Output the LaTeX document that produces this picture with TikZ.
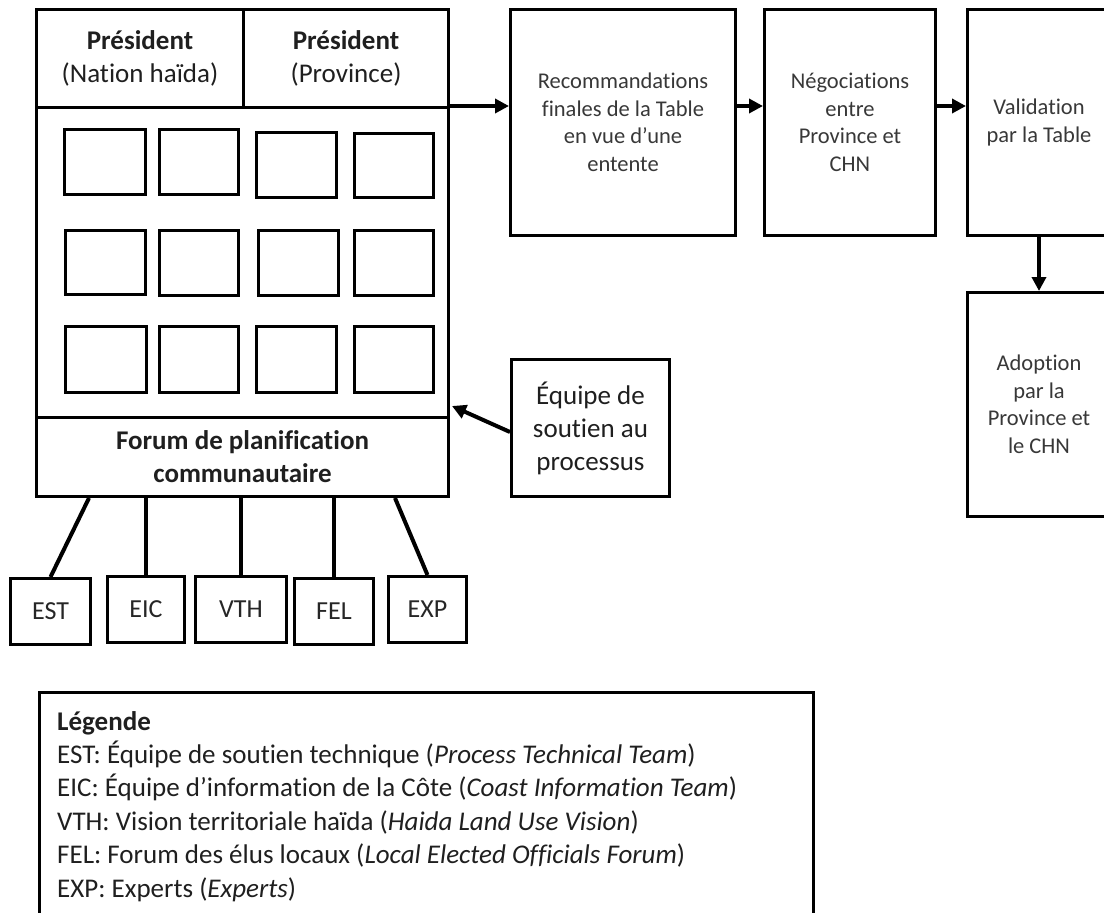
\documentclass[tikz,border=0pt]{standalone}
\usepackage{fontspec}
\setmainfont{Carlito}[Ligatures=NoCommon]
\usetikzlibrary{arrows.meta}
\begin{document}
\begin{tikzpicture}[x=1pt,y=-1pt,
  box/.style={draw, line width=3pt, rectangle, inner sep=0pt, anchor=north west},
  bigtxt/.style={font=\fontsize{27}{33}\selectfont, align=center, text=black!88},
  proc/.style={box, font=\fontsize{22.5}{27.5}\selectfont, align=center, text=black!78},
  tag/.style={box, font=\fontsize{26}{30}\selectfont, text=black!85},
  legline/.style={anchor=base west, inner sep=0pt, font=\fontsize{27}{33}\selectfont, text=black!88},
  arr/.style={line width=4pt, -{Triangle[length=14pt,width=14pt]}},
  link/.style={line width=4pt},
]
\useasboundingbox (0,0) rectangle (1104,913);

% Planning table with its two chairs and the community forum
\node[box, minimum width=412pt, minimum height=487pt] (table) at (35,8) {};
\node[box, bigtxt, minimum width=207pt, minimum height=98pt] (hA) at (35,8)
  {\textbf{Président}\\(Nation haïda)};
\node[box, bigtxt, minimum width=205pt, minimum height=98pt] (hB) at (242,8)
  {\textbf{Président}\\(Province)};
\node[box, bigtxt, minimum width=412pt, minimum height=79pt] (forum) at (35,416)
  {\textbf{Forum de planification}\\\textbf{communautaire}};

% Table members
\node[box, minimum width=81pt, minimum height=65pt] (g11) at (63,128) {};
\node[box, minimum width=79pt, minimum height=65pt] (g12) at (158,128) {};
\node[box, minimum width=80pt, minimum height=65pt] (g13) at (255,131) {};
\node[box, minimum width=79pt, minimum height=64pt] (g14) at (353,132) {};
\node[box, minimum width=80pt, minimum height=64pt] (g21) at (64,229) {};
\node[box, minimum width=79pt, minimum height=65pt] (g22) at (158,229) {};
\node[box, minimum width=80pt, minimum height=65pt] (g23) at (257,229) {};
\node[box, minimum width=79pt, minimum height=65pt] (g24) at (353,229) {};
\node[box, minimum width=81pt, minimum height=66pt] (g31) at (64,325) {};
\node[box, minimum width=79pt, minimum height=66pt] (g32) at (158,325) {};
\node[box, minimum width=80pt, minimum height=66pt] (g33) at (255,325) {};
\node[box, minimum width=79pt, minimum height=66pt] (g34) at (353,325) {};

% Process steps
\node[proc, minimum width=225pt, minimum height=226pt] (reco) at (509,8)
  {Recommandations\\finales de la Table\\en vue d’une\\entente};
\node[proc, minimum width=171pt, minimum height=226pt] (nego) at (763,8)
  {Négociations\\entre\\Province et\\CHN};
\node[proc, minimum width=143pt, minimum height=226pt] (val) at (966,8)
  {Validation\\par la Table};
\node[proc, minimum width=143pt, minimum height=224pt] (adopt) at (966,291)
  {Adoption\\par la\\Province et\\le CHN};
\node[box, bigtxt, minimum width=158pt, minimum height=137pt] (equipe) at (510,358)
  {Équipe de\\soutien au\\processus};

% Groups feeding the community forum
\node[tag, minimum width=80pt, minimum height=66pt] (est) at (9,577) {EST};
\node[tag, minimum width=77pt, minimum height=66pt] (eic) at (106,575) {EIC};
\node[tag, minimum width=91pt, minimum height=66pt] (vth) at (194,575) {VTH};
\node[tag, minimum width=79pt, minimum height=66pt] (fel) at (293,577) {FEL};
\node[tag, minimum width=78pt, minimum height=66pt] (exp) at (387,575) {EXP};

% Flow arrows
\coordinate (flow) at (0,106);
\draw[arr] (table.east |- flow) -- (reco.west |- flow);
\draw[arr] (reco.east |- flow) -- (nego.west |- flow);
\draw[arr] (nego.east |- flow) -- (val.west |- flow);
\draw[arr] (val.south) -- (adopt.north);
\draw[arr] ([yshift=-4pt]equipe.west) -- ([xshift=2pt,yshift=10pt]table.east |- forum.north);

% Links from the forum to the groups
\draw[link] ([xshift=54pt]forum.south west) -- (est.north);
\draw[link] (eic.north |- forum.south) -- (eic.north);
\draw[link] (vth.north |- forum.south) -- (vth.north);
\draw[link] (fel.north |- forum.south) -- (fel.north);
\draw[link] ([xshift=-55pt]forum.south east) -- (exp.north);

% Legend
\node[box, minimum width=774pt, minimum height=260pt] (legend) at (38,691) {};
\node[legline] (leg0) at (57,730) {\textbf{Légende}};
\node[legline] (leg1) at (57,763.4) {EST: Équipe de soutien technique (\textit{Process Technical Team})};
\node[legline] (leg2) at (57,796.8) {EIC: Équipe d’information de la Côte (\textit{Coast Information Team})};
\node[legline] (leg3) at (57,830.2) {VTH: Vision territoriale haïda (\textit{Haida Land Use Vision})};
\node[legline] (leg4) at (57,863.6) {FEL: Forum des élus locaux (\textit{Local Elected Officials Forum})};
\node[legline] (leg5) at (57,897) {EXP: Experts (\textit{Experts})};
\end{tikzpicture}
\end{document}
